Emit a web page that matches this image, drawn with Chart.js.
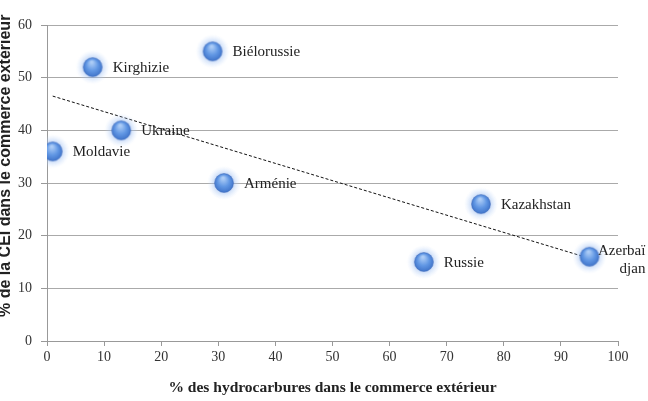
<!DOCTYPE html>
<html><head><meta charset="utf-8">
<script src="https://cdn.jsdelivr.net/npm/chart.js@4/dist/chart.umd.min.js"></script>
<style>html,body{margin:0;padding:0;background:#fff}#wrap{width:648px;height:401px}</style>
</head><body><div id="wrap"><canvas id="c" width="648" height="401"></canvas></div>
<script>
const countries = ["Moldavie","Kirghizie","Ukraine","Biélorussie","Arménie","Kazakhstan","Russie","Azerbaï\ndjan"];
const hydroShare = [1, 8, 13, 29, 31, 76, 66, 95];
const ceiShare = [36, 52, 40, 55, 30, 26, 15, 16];
const trendX = [1, 95];
const trendY = [46.5, 15.7];
const xTicks = [0,10,20,30,40,50,60,70,80,90,100];
const yTicks = [0,10,20,30,40,50,60];
const xTitle = '% des hydrocarbures dans le commerce extérieur';
const yTitle = '% de la CEI dans le commerce extérieur';

const serif = "'Liberation Serif', 'DejaVu Serif', serif";
const sans = "'Liberation Sans', Arial, sans-serif";

function makeBall(){
  const s = 36, c = document.createElement('canvas');
  c.width = s; c.height = s;
  const g = c.getContext('2d');
  const cx = s/2, cy = s/2;
  const glow = g.createRadialGradient(cx, cy, 8, cx, cy, 17);
  glow.addColorStop(0, 'rgba(130,170,235,0.55)');
  glow.addColorStop(0.5, 'rgba(170,200,245,0.3)');
  glow.addColorStop(1, 'rgba(200,220,250,0)');
  g.fillStyle = glow; g.beginPath(); g.arc(cx, cy, 17, 0, Math.PI*2); g.fill();
  const body = g.createRadialGradient(cx-1, cy-5, 1, cx, cy, 10);
  body.addColorStop(0, '#acccf6');
  body.addColorStop(0.55, '#6197e4');
  body.addColorStop(1, '#3e72c8');
  g.fillStyle = body; g.beginPath(); g.arc(cx, cy, 9.5, 0, Math.PI*2); g.fill();
  g.strokeStyle = 'rgba(60,100,180,0.55)'; g.lineWidth = 0.8; g.stroke();
  return c;
}
const ball = makeBall();

const labelPlugin = {
  id: 'labels',
  afterDatasetsDraw(chart){
    const meta = chart.getDatasetMeta(1);
    const ctx = chart.ctx;
    ctx.save();
    ctx.font = "15px " + serif;
    ctx.fillStyle = '#222';
    ctx.textBaseline = 'middle';
    meta.data.forEach((pt, i) => {
      const lines = countries[i].split('\n');
      if (lines.length > 1) {
        ctx.textAlign = 'right';
        const rx = pt.x + 56;
        ctx.fillText(lines[0], rx, pt.y - 6);
        ctx.fillText(lines[1], rx, pt.y + 12);
      } else {
        ctx.textAlign = 'left';
        ctx.fillText(lines[0], pt.x + 20, pt.y + 1);
      }
    });
    ctx.restore();
  },
  afterDraw(chart){
    const ctx = chart.ctx;
    ctx.save();
    ctx.font = "bold 16px " + sans;
    ctx.fillStyle = '#222';
    ctx.textAlign = 'left';
    ctx.textBaseline = 'alphabetic';
    ctx.translate(10, 317);
    ctx.rotate(-Math.PI/2);
    ctx.fillText(yTitle, 0, 0);
    ctx.restore();
  }
};

new Chart(document.getElementById('c'), {
  type: 'scatter',
  data: {
    datasets: [
      {
        type: 'line',
        data: trendX.map((x, i) => ({x, y: trendY[i]})),
        borderColor: '#111', borderWidth: 1, borderDash: [3, 2],
        pointRadius: 0, fill: false, order: 2
      },
      {
        data: hydroShare.map((x, i) => ({x, y: ceiShare[i]})),
        pointStyle: ball, pointRadius: 18, order: 1
      }
    ]
  },
  options: {
    responsive: false,
    animation: false,
    devicePixelRatio: 1,
    layout: { padding: { top: 25, right: 30, left: 0, bottom: 0 } },
    plugins: { legend: { display: false }, tooltip: { enabled: false } },
    scales: {
      x: {
        type: 'linear', min: 0, max: 100,
        afterBuildTicks: s => { s.ticks = xTicks.map(v => ({value: v})); },
        afterFit: s => { s.height = 60; },
        grid: { display: true, drawOnChartArea: false, drawTicks: true, tickLength: 5, color: '#999' },
        border: { color: '#999', width: 1 },
        ticks: { color: '#333', font: { family: serif, size: 14 }, padding: 3, maxRotation: 0 },
        title: { display: true, text: xTitle, color: '#222',
                 font: { family: serif, size: 15.5, weight: 'bold' }, padding: { top: 4 } }
      },
      y: {
        type: 'linear', min: 0, max: 60,
        afterBuildTicks: s => { s.ticks = yTicks.map(v => ({value: v})); },
        afterFit: s => { s.width = 47; },
        grid: { color: '#aaa', lineWidth: 1, drawTicks: true, tickLength: 6, tickColor: '#999' },
        border: { color: '#999', width: 1 },
        ticks: { color: '#333', font: { family: serif, size: 14 }, padding: 9 },
        title: { display: false }
      }
    }
  },
  plugins: [labelPlugin]
});
</script></body></html>
